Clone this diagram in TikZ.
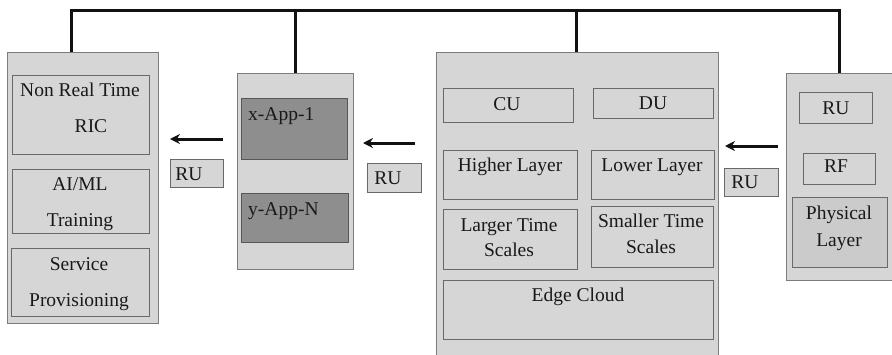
\documentclass[tikz,border=0pt]{standalone}
\usepackage{fontspec}
\setmainfont{Liberation Serif}
\usetikzlibrary{arrows.meta}
\definecolor{panelfill}{HTML}{D6D6D6}
\definecolor{panelline}{HTML}{7C7C7C}
\definecolor{appfill}{HTML}{8E8E8E}
\definecolor{phyfill}{HTML}{CBCBCB}
\definecolor{inkline}{HTML}{111111}
\tikzset{
  panel/.style={draw=panelline, fill=panelfill, line width=1.2pt, anchor=north west, inner sep=0pt},
  cell/.style={draw=panelline!85!black, fill=panelfill, line width=1.2pt, anchor=north west, inner sep=0pt},
  appcell/.style={cell, fill=appfill, draw=panelline!70!black},
  phycell/.style={cell, fill=phyfill},
  txt/.style={inner sep=0pt, text height=12pt, text depth=4pt, font=\fontsize{19.5}{21}\selectfont, text=black!90},
  bus/.style={draw=inkline, line width=3pt},
  feed/.style={draw=inkline, line width=3pt, -{Stealth[length=10pt,width=10pt]}}
}
\newcommand\cellbox[6]{% style, name, x, y, width, height
  \node[#1, minimum width=#5pt, minimum height=#6pt] (#2) at (#3,#4) {};}
\begin{document}
\begin{tikzpicture}[x=1pt,y=-1pt]
\useasboundingbox (0,0) rectangle (892,354);
\fill[white] (0,0) rectangle (892,354);

% ---- panels ----
\cellbox{panel}{ric}{7}{52}{151}{271}
\cellbox{panel}{apps}{237}{73}{116}{196}
\cellbox{panel}{edge}{436}{52}{282}{306}
\cellbox{panel}{radio}{786}{73}{110}{207}

% ---- non real time RIC ----
\cellbox{cell}{nrt}{12}{75}{137}{79}
\node[txt] at (80,92) {Non Real Time};
\node[txt] at (91,128) {RIC};
\cellbox{cell}{aiml}{12}{169}{137}{64}
\node[txt] at (80,186) {AI/ML};
\node[txt] at (80,222) {Training};
\cellbox{cell}{serv}{11}{248}{138}{68}
\node[txt] at (79,266) {Service};
\node[txt] at (79,302) {Provisioning};

% ---- applications ----
\cellbox{appcell}{xapp}{241}{98}{106}{61}
\node[txt, anchor=west] at (248,116) {x-App-1};
\cellbox{appcell}{yapp}{241}{193}{107}{49}
\node[txt, anchor=west] at (248,211) {y-App-N};

% ---- edge cloud ----
\cellbox{cell}{cu}{443}{88}{130}{34}
\node[txt] at (507,106) {CU};
\cellbox{cell}{du}{593}{88}{120}{30}
\node[txt] at (653,105) {DU};
\cellbox{cell}{hl}{443}{150}{134}{49}
\node[txt] at (510,167) {Higher Layer};
\cellbox{cell}{ll}{591}{150}{123}{49}
\node[txt] at (652,167) {Lower Layer};
\cellbox{cell}{lts}{443}{209}{134}{60}
\node[txt] at (509,227) {Larger Time};
\node[txt] at (509,252) {Scales};
\cellbox{cell}{sts}{591}{206}{122}{61}
\node[txt] at (651,223) {Smaller Time};
\node[txt] at (651,249) {Scales};
\cellbox{cell}{ec}{443}{280}{270}{59}
\node[txt] at (578,297) {Edge Cloud};

% ---- radio unit ----
\cellbox{cell}{ru}{799}{92}{73}{31}
\node[txt] at (836,110) {RU};
\cellbox{cell}{rf}{803}{153}{72}{31}
\node[txt] at (836,168) {RF};
\cellbox{phycell}{phy}{792}{197}{95}{70}
\node[txt] at (839,215) {Physical};
\node[txt] at (839,242) {Layer};

% ---- RU tags beside the arrows ----
\cellbox{cell}{ruA}{170}{159}{53}{28}
\node[txt] at (189,176) {RU};
\cellbox{cell}{ruB}{367}{163}{54}{29}
\node[txt] at (388,180) {RU};
\cellbox{cell}{ruC}{724}{168}{54}{28}
\node[txt] at (745,184) {RU};

% ---- feeds ----
\coordinate (fA1) at (223,139); \coordinate (fA2) at (170,139);
\coordinate (fB1) at (415,143); \coordinate (fB2) at (363,143);
\coordinate (fC1) at (778,146); \coordinate (fC2) at (725,146);
\draw[feed] (fA1) -- (fA2);
\draw[feed] (fB1) -- (fB2);
\draw[feed] (fC1) -- (fC2);

% ---- common bus ----
\coordinate (busL) at (71,10);
\coordinate (busR) at (839,10);
\draw[bus] (ric.north -| busL) -- (busL) -- (busR) -- (radio.north -| busR);
\draw[bus] (apps.north) -- (apps.north |- busL);
\draw[bus] (edge.north -| 576,0) -- (576,10);
\end{tikzpicture}
\end{document}
